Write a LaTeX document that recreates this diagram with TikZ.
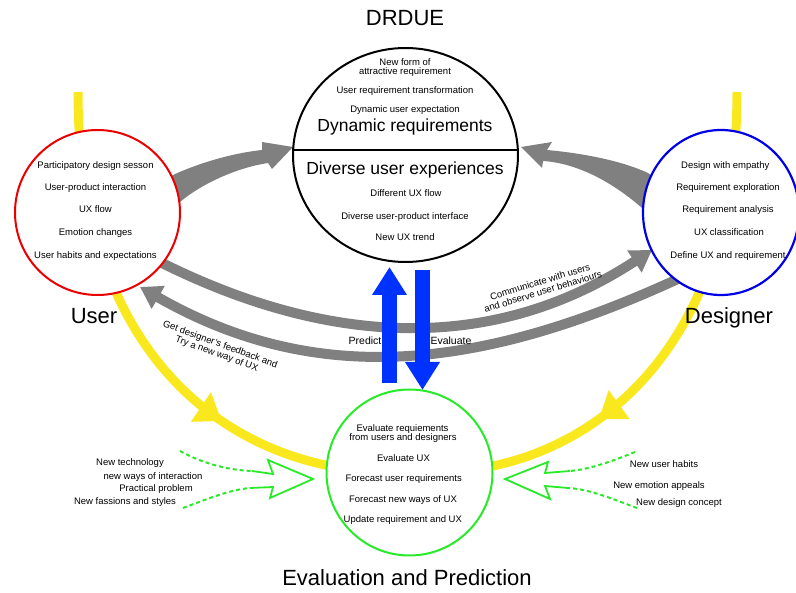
\documentclass[tikz,border=0pt]{standalone}
\usepackage{fontspec}
\setmainfont{Liberation Sans}
\usetikzlibrary{arrows.meta,shapes.geometric,decorations.markings}
\definecolor{yel}{RGB}{250,232,30}
\definecolor{gry}{RGB}{128,128,128}
\definecolor{blu}{RGB}{0,50,255}
\definecolor{grn}{RGB}{40,235,40}
\definecolor{cblue}{RGB}{0,0,230}
\definecolor{cred}{RGB}{235,0,0}
\begin{document}
\begin{tikzpicture}[x=1pt,y=-1pt,
  small/.style={font=\fontsize{9.5}{9.5}\selectfont, text height=7pt, text depth=2pt, inner sep=0pt},
  rot/.style={font=\fontsize{9.5}{10}\selectfont, align=center, inner sep=0pt},
  big/.style={font=\fontsize{17.5}{20}\selectfont, text height=13pt, text depth=3.5pt, inner sep=0pt},
  ttl/.style={font=\fontsize{22}{24}\selectfont, text height=16pt, text depth=4.5pt, inner sep=0pt},
  yarrow/.style={yel, line width=9pt, postaction={decorate}, decoration={markings, mark=at position #1 with {\arrow{Triangle[length=25pt,width=34pt]}}}},
  garrow/.style={gry, line width=10pt, -{Triangle[length=21pt,width=25pt]}},
  barrow/.style={blu, line width=15pt, -{Triangle[length=28pt,width=33pt]}},
  gout/.style={grn, line width=1.8pt, line join=miter},
  gdash/.style={grn, line width=2pt, dash pattern=on 4pt off 3pt},
  ring/.style={fill=white, inner sep=0pt, line width=2pt}
]
\useasboundingbox (0,0) rectangle (796,593);

% yellow flows
\coordinate (yl0) at (78,92);
\coordinate (yl1) at (330,466);
\coordinate (yr0) at (737,92);
\coordinate (yr1) at (493,466);
\draw[yarrow=0.76] (yl0) .. controls (78,330) and (200,440) .. (yl1);
\draw[yarrow=0.76] (yr0) .. controls (737,330) and (615,440) .. (yr1);

% gray thick arrows to DRDUE
\fill[gry] (165,180) -- (173,175) .. controls (190,167) and (225,154) .. (262,150) -- (262,142) -- (293,147) -- (272,169) -- (268,163) .. controls (235,168) and (200,185) .. (180,202) -- (172,207) -- cycle;
\fill[gry] (655,178) -- (648,173) .. controls (620,160) and (580,153) .. (547,150) -- (552,142) -- (521,147) -- (542,168) -- (543,161) .. controls (575,163) and (610,180) .. (642,208) -- (650,210) -- cycle;

% gray curved arrows
\coordinate (c0) at (158,261);
\coordinate (c1) at (652,250);
\coordinate (f0) at (680,278);
\coordinate (f1) at (140,287);
\draw[garrow] (c0) .. controls (325,345) and (490,356) .. (c1);
\draw[garrow] (f0) .. controls (485,368) and (320,390) .. (f1);

% circles
\node[ring, circle, draw=cred, minimum size=165pt] (user) at (97.5,212.5) {};
\node[ring, ellipse, draw=cblue, line width=2.2pt, minimum width=156pt, minimum height=165pt] (designer) at (721,212.5) {};
\node[ring, ellipse, draw=black, minimum width=225pt, minimum height=214pt] (drdue) at (405.5,155) {};
\node[ring, circle, draw=grn, minimum size=166pt] (evalc) at (409.5,472.5) {};
\coordinate (dl) at (293.2,150);
\coordinate (dr) at (517.8,150);
\draw[line width=2pt] (dl) -- (dr);

% blue arrows
\coordinate (pu0) at (389.5,383);
\coordinate (pu1) at (389.5,267);
\coordinate (ev0) at (422.5,270);
\coordinate (ev1) at (422.5,390);
\draw[barrow] (pu0) -- (pu1);
\draw[barrow] (ev0) -- (ev1);

% green inputs
\coordinate (la) at (252,471);
\coordinate (lb) at (250,488);
\coordinate (ra) at (570,471);
\coordinate (rb) at (568,488);
\draw[gout] (la) -- (273,474) -- (268,460) -- (313,479) -- (270,498) -- (273,487) -- (lb);
\draw[gout] (ra) -- (545,473) -- (548,462) -- (505,479) -- (550,499) -- (545,486) -- (rb);
\coordinate (la0) at (180,451);
\coordinate (lb0) at (183,508);
\coordinate (ra0) at (635,452);
\coordinate (rb0) at (637,508);
\draw[gdash] (la0) .. controls (200,462) and (225,470) .. (la);
\draw[gdash] (lb0) .. controls (205,500) and (228,490) .. (lb);
\draw[gdash] (ra0) .. controls (615,460) and (592,469) .. (ra);
\draw[gdash] (rb0) .. controls (615,500) and (590,489) .. (rb);

% titles
\node[ttl] (tdrdue) at (405,20) {DRDUE};
\node[ttl] (tuser) at (94,318) {User};
\node[ttl] (tdes) at (729,318) {Designer};
\node[ttl] (teval) at (407,580) {Evaluation and Prediction};

% DRDUE circle texts
\node[small] (d1) at (405,63.3) {New form of};
\node[small] (d2) at (405,71.7) {attractive requirement};
\node[small] (d3) at (405,90.7) {User requirement transformation};
\node[small] (d4) at (405,110) {Dynamic user expectation};
\node[big] (d5) at (405,126.7) {Dynamic requirements};
\node[big] (d6) at (405,170) {Diverse user experiences};
\node[small] (d7) at (406,194) {Different UX flow};
\node[small] (d8) at (405,216.7) {Diverse user-product interface};
\node[small] (d9) at (405,238.3) {New UX trend};

% user circle texts
\node[small] (u1) at (95.5,166) {Participatory design sesson};
\node[small] (u2) at (95.5,188) {User-product interaction};
\node[small] (u3) at (95.5,210) {UX flow};
\node[small] (u4) at (95.5,233) {Emotion changes};
\node[small] (u5) at (95.5,256) {User habits and expectations};

% designer circle texts
\node[small] (s1) at (725.3,166) {Design with empathy};
\node[small] (s2) at (728,188) {Requirement exploration};
\node[small] (s3) at (728,210) {Requirement analysis};
\node[small] (s4) at (729,233) {UX classification};
\node[small] (s5) at (728,256) {Define UX and requirement};

% evaluation circle texts
\node[small] (e1) at (402.5,429) {Evaluate requiements};
\node[small] (e2) at (403,438) {from users and designers};
\node[small] (e3) at (403.5,459) {Evaluate UX};
\node[small] (e4) at (403.7,479) {Forecast user requirements};
\node[small] (e5) at (403,499.7) {Forecast new ways of UX};
\node[small] (e6) at (402.8,520) {Update requirement and UX};

% arrow labels
\node[small, font=\fontsize{10.5}{10.5}\selectfont] (lpred) at (365,342) {Predict};
\node[small, font=\fontsize{10.5}{10.5}\selectfont] (leval) at (451,342) {Evaluate};
\node[rot, rotate=17] (lcom) at (541.5,286.5) {Communicate with users\\and observe user behaviours};
\node[rot, rotate=-20] (lget) at (218.4,349.5) {Get designer's feedback and\\Try a new way of UX};

% outside inputs
\node[small] (o1) at (130,463) {New technology};
\node[small] (o2) at (153,477) {new ways of interaction};
\node[small] (o3) at (156,489) {Practical problem};
\node[small] (o4) at (125,502) {New fassions and styles};
\node[small] (p1) at (664,465) {New user habits};
\node[small] (p2) at (659,486) {New emotion appeals};
\node[small] (p3) at (679,503) {New design concept};
\end{tikzpicture}
\end{document}
